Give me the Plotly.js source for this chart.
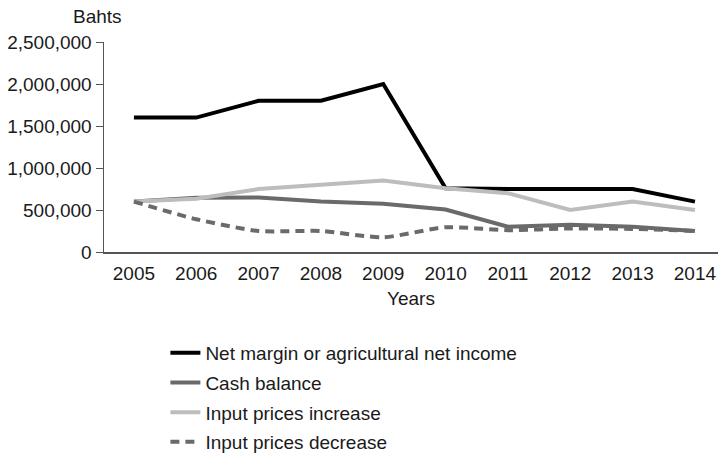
<!DOCTYPE html>
<html>
<head>
<meta charset="utf-8">
<script src="https://cdn.plot.ly/plotly-3.0.1.min.js"></script>
<style>html,body{margin:0;padding:0;background:#fff;}#chart{width:718px;height:458px;}</style>
</head>
<body>
<div id="chart"></div>
<script>
const years = ['2005','2006','2007','2008','2009','2010','2011','2012','2013','2014'];
const netMargin = [1600000,1600000,1800000,1800000,2000000,760000,750000,750000,750000,600000];
const cashBalance = [600000,645000,650000,600000,575000,505000,300000,325000,300000,250000];
const inputIncrease = [600000,635000,750000,800000,850000,760000,700000,500000,600000,500000];
const inputDecrease = [600000,390000,250000,250000,175000,295000,260000,280000,275000,250000];
const seriesNames = ['Net margin or agricultural net income','Cash balance','Input prices increase','Input prices decrease'];

const font = {family: 'Liberation Sans, Arial, Helvetica, sans-serif', size: 19, color: '#1a1a1a'};

const traces = [
  {x: years, y: netMargin, name: seriesNames[0], mode: 'lines', line: {color: '#000000', width: 4}, legendgroup: 'a'},
  {x: years, y: cashBalance, name: seriesNames[1], mode: 'lines', line: {color: '#6a6a6a', width: 4}, legendgroup: 'b'},
  {x: years, y: inputIncrease, name: seriesNames[2], mode: 'lines', line: {color: '#bdbdbd', width: 4}, legendgroup: 'c'},
  {x: years, y: inputDecrease, name: seriesNames[3], mode: 'lines', line: {color: '#6a6a6a', width: 4, dash: '9px,6px', shape: 'spline', smoothing: 0.6}, legendgroup: 'd'}
];

const layout = {
  width: 718, height: 458,
  margin: {l: 104, r: 0, t: 42, b: 206, autoexpand: false},
  paper_bgcolor: '#ffffff', plot_bgcolor: '#ffffff',
  font: font,
  showlegend: true,
  legend: {x: 0.1, xanchor: 'left', y: -0.39, yanchor: 'top', orientation: 'v',
           traceorder: 'grouped', tracegroupgap: 2, font: font, bgcolor: 'rgba(0,0,0,0)'},
  xaxis: {type: 'category', range: [-0.48, 9.37], showgrid: false, zeroline: false,
          showline: true, linecolor: '#555', linewidth: 1.5, ticks: 'outside', ticklen: 4, tickcolor: 'rgba(0,0,0,0)', tickfont: font,
          title: {text: 'Years', font: font, standoff: 8}, fixedrange: true},
  yaxis: {range: [0, 2500000], tickvals: [0,500000,1000000,1500000,2000000,2500000],
          tickformat: ',d', showgrid: false, zeroline: false, showline: true,
          linecolor: '#555', linewidth: 1.5, ticks: 'outside', ticklen: 7, tickcolor: '#555',
          tickfont: font, fixedrange: true},
  annotations: [{text: 'Bahts', xref: 'paper', yref: 'paper', x: -0.011, y: 1.06,
                 xanchor: 'center', yanchor: 'bottom', showarrow: false, font: font}]
};

Plotly.newPlot('chart', traces, layout, {displayModeBar: false, staticPlot: true});
</script>
</body>
</html>
